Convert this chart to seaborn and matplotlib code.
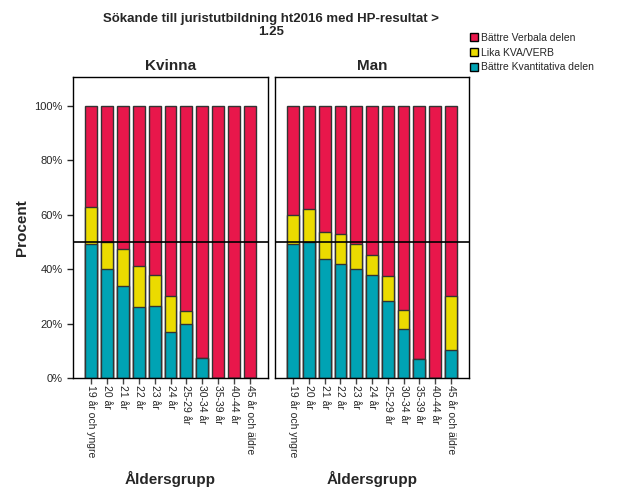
import numpy as np
import pandas as pd
import seaborn as sns
import matplotlib.pyplot as plt
from matplotlib.patches import Patch
from matplotlib.ticker import PercentFormatter

# age groups on the x axis
age_groups = ["19 år och yngre", "20 år", "21 år", "22 år", "23 år", "24 år",
              "25-29 år", "30-34 år", "35-39 år", "40-44 år", "45 år och äldre"]

# percent shares per panel (teal bottom, yellow middle, rest red)
kvinna_kvant = [49.3, 40.0, 33.8, 26.2, 26.5, 16.9, 19.8, 7.5, 0.0, 0.0, 0.0]
kvinna_lika = [13.3, 10.0, 13.5, 14.8, 11.3, 13.2, 4.7, 0.0, 0.0, 0.0, 0.0]
man_kvant = [49.3, 49.8, 43.7, 42.0, 40.0, 37.8, 28.2, 18.1, 6.8, 0.0, 10.2]
man_lika = [10.6, 12.1, 9.8, 10.7, 9.1, 7.5, 9.1, 7.0, 0.0, 0.0, 19.9]

panels = ["Kvinna", "Man"]
legend_labels = ["Bättre Verbala delen", "Lika KVA/VERB", "Bättre Kvantitativa delen"]
colors = ["#E8174B", "#EBDB00", "#00A3B4"]

sns.set_style("white")
plt.rcParams['font.family'] = ['Liberation Sans', 'DejaVu Sans']

fig = plt.figure(figsize=(6.26, 5.01), dpi=100)
ax1 = fig.add_axes([73 / 626, 1 - 378 / 501, 195 / 626, 301 / 501])
ax2 = fig.add_axes([275 / 626, 1 - 378 / 501, 194 / 626, 301 / 501])

data = {"Kvinna": (kvinna_kvant, kvinna_lika), "Man": (man_kvant, man_lika)}

for ax, name in zip([ax1, ax2], panels):
    kvant, lika = data[name]
    df = pd.DataFrame({
        "grupp": age_groups,
        "verbal": [100.0] * len(age_groups),
        "lika": np.array(kvant) + np.array(lika),
        "kvant": kvant,
    })
    for col, c in zip(["verbal", "lika", "kvant"], colors):
        sns.barplot(data=df, x="grupp", y=col, color=c, ax=ax, width=0.74,
                    edgecolor="#333333", linewidth=1.0, saturation=1)
    ax.axhline(50, color="black", lw=1.2, zorder=5)
    ax.set_xlim(-1.15, 11.15)
    ax.set_ylim(0, 110.5)
    ax.set_xlabel("Åldersgrupp", fontsize=11, fontweight="bold", labelpad=10)
    ax.set_ylabel("")
    ax.set_title(name, fontsize=11, fontweight="bold", pad=5)
    ax.set_xticks(range(len(age_groups)))
    ax.set_xticklabels(age_groups, rotation=270, fontsize=7.5)
    ax.tick_params(axis="x", direction="out", length=4, width=1, color="#444444",
                   pad=1, bottom=True)
    for s in ax.spines.values():
        s.set_color("black")
        s.set_linewidth(1.0)

ax1.set_yticks([0, 20, 40, 60, 80, 100])
ax1.yaxis.set_major_formatter(PercentFormatter(decimals=0))
ax1.tick_params(axis="y", direction="out", length=4, width=1, labelsize=8, left=True)
ax1.set_ylabel("Procent", fontsize=11, fontweight="bold")
ax1.yaxis.set_label_coords(-0.225, 0.5)
ax2.set_yticks([])

fig.text(271 / 626, 1 - 25.5 / 501, "Sökande till juristutbildning ht2016 med HP-resultat >\n1.25",
         ha="center", va="center", fontsize=9.5, fontweight="bold", linespacing=1.05)

handles = [Patch(facecolor=c, edgecolor="black", label=l) for c, l in zip(colors, legend_labels)]
fig.legend(handles=handles, loc="upper left", bbox_to_anchor=(470 / 626, 1 - 33 / 501),
           frameon=False, fontsize=7.5, handlelength=0.8, handleheight=0.8,
           handletextpad=0.3, labelspacing=0.45, borderaxespad=0, borderpad=0)

fig.savefig("out.png", dpi=100)
